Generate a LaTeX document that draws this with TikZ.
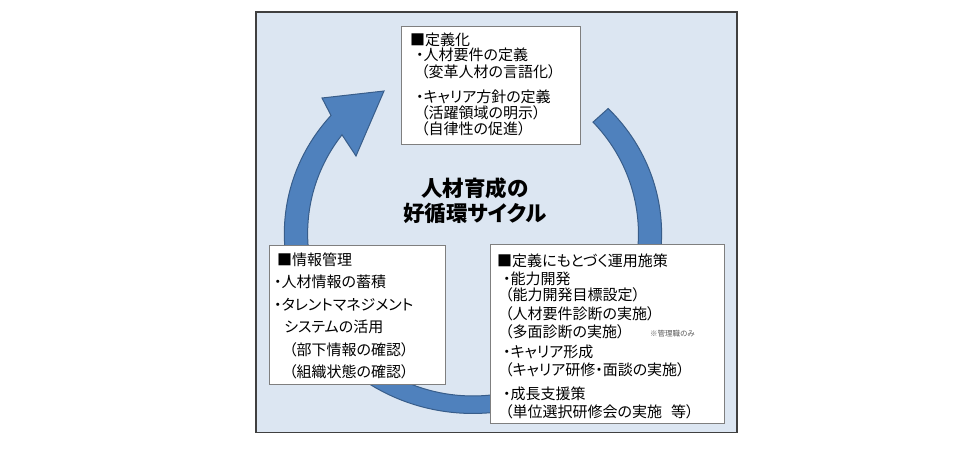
\documentclass[tikz,border=0pt]{standalone}
\usepackage{fontspec}
\setmainfont{Noto Sans CJK JP}[RawFeature=+palt]
\definecolor{bgblue}{HTML}{DCE6F2}
\definecolor{arrowfill}{HTML}{4F81BD}
\definecolor{arrowedge}{HTML}{385D8A}
\definecolor{framegray}{HTML}{404040}
\definecolor{boxgray}{HTML}{7F7F7F}
\definecolor{notegray}{HTML}{595959}
\tikzset{
  frame/.style={fill=bgblue, draw=framegray, line width=1.2pt},
  tbox/.style={fill=white, draw=boxgray, line width=0.9pt},
  cyc/.style={fill=arrowfill, draw=arrowedge, line width=1pt, line join=miter},
  ln/.style={anchor=base west, inner sep=0pt, font=\fontsize{15}{17}\selectfont},
  ttl/.style={anchor=base, inner sep=0pt, font=\fontsize{21.5}{24}\selectfont\bfseries},
  note/.style={anchor=base west, inner sep=0pt, text=notegray, font=\fontsize{7.5}{8}\selectfont}
}
\begin{document}
\begin{tikzpicture}[x=1pt,y=-1pt]
\fill[white] (0,0) rectangle (980,450);
\useasboundingbox (0,0) rectangle (980,450);
\draw[frame] (256,12) rectangle (737,432.5);
% circular arrow
\draw[cyc] (608.2,108.5) arc[start angle=-44.2, end angle=221.2, x radius=188.65, y radius=179.7]
  -- (322,98) -- (384,91) -- (356,156) -- (342,134.8)
  arc[start angle=217.6, end angle=-43.5, x radius=165.4, y radius=162.2] -- cycle;
% boxes
\draw[tbox] (401,26) rectangle (580,144);
\draw[tbox] (269,245) rectangle (445,384.5);
\draw[tbox] (490,244) rectangle (724,423);
% title
\node[ttl] (ttl1) at (475,196.2) {人材育成の};
\node[ttl] (ttl2) at (475,221.2) {好循環サイクル};
% top box
\node[ln] (a1) at (410,45.2) {■定義化};
\node[ln] (a2) at (416,60.7) {・人材要件の定義};
\node[ln] (a3) at (421,77.2) {（変革人材の言語化）};
\node[ln] (a4) at (416,102.7) {・キャリア方針の定義};
\node[ln] (a5) at (421,118.7) {（活躍領域の明示）};
\node[ln] (a6) at (421,134.2) {（自律性の促進）};
% left box
\node[ln] (b1) at (277,265.7) {■情報管理};
\node[ln] (b2) at (274,287.4) {・人材情報の蓄積};
\node[ln] (b3) at (274,310.7) {・タレントマネジメント};
\node[ln] (b4) at (284,332.4) {システムの活用};
\node[ln] (b5) at (289,355) {（部下情報の確認）};
\node[ln] (b6) at (289,377.4) {（組織状態の確認）};
% right box
\node[ln] (c1) at (497,266.7) {■定義にもとづく運用施策};
\node[ln] (c2) at (503,284) {・能力開発};
\node[ln] (c3) at (505,300.7) {（能力開発目標設定）};
\node[ln] (c4) at (505,319) {（人材要件診断の実施）};
\node[ln] (c5) at (505,337.4) {（多面診断の実施）};
\node[note] (c5n) at (650,336.9) {※管理職のみ};
\node[ln] (c6) at (503,357.4) {・キャリア形成};
\node[ln] (c7) at (505,375.7) {（キャリア研修・面談の実施）};
\node[ln] (c8) at (503,399) {・成長支援策};
\node[ln] (c9) at (505,417.4) {（単位選択研修会の実施\hspace{9pt}等）};
\end{tikzpicture}
\end{document}
